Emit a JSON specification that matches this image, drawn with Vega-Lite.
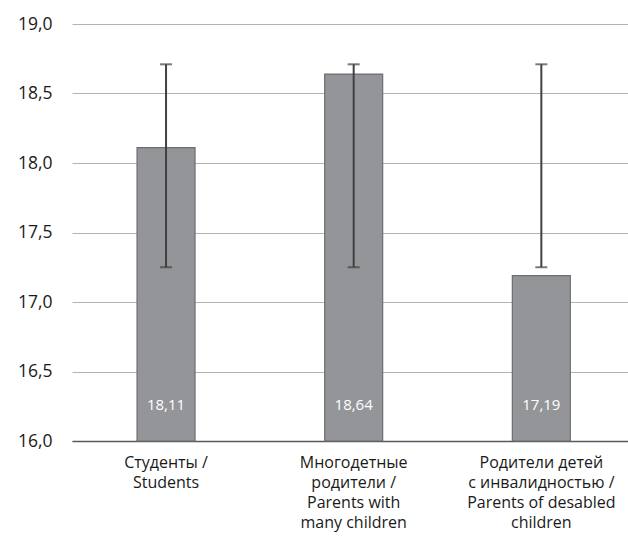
{
  "$schema": "https://vega.github.io/schema/vega-lite/v6.json",
  "autosize": "none",
  "width": 556,
  "height": 417,
  "padding": {"left": 72, "top": 24, "right": 0, "bottom": 97},
  "background": "white",
  "data": {
    "values": [
      {"group": "Студенты /|Students", "mean": 18.11, "low": 17.25, "high": 18.71, "text": "18,11"},
      {"group": "Многодетные|родители /|Parents with|many children", "mean": 18.64, "low": 17.25, "high": 18.71, "text": "18,64"},
      {"group": "Родители детей|с инвалидностью /|Parents of desabled|children", "mean": 17.19, "low": 17.25, "high": 18.71, "text": "17,19"}
    ]
  },
  "encoding": {
    "x": {
      "field": "group", "type": "nominal", "sort": null,
      "scale": {"paddingInner": 0.691, "paddingOuter": 0.327, "align": 0.53},
      "axis": {
        "title": null, "labelAngle": 0, "ticks": false,
        "labelExpr": "split(datum.label, '|')",
        "labelFont": "Open Sans", "labelFontSize": 16, "labelColor": "#1a1a1a",
        "labelPadding": 13, "labelLineHeight": 20,
        "domainColor": "#595959", "domainWidth": 1.5
      }
    }
  },
  "layer": [
    {
      "mark": {"type": "bar", "fill": "#939598", "stroke": "#6d6e70", "strokeWidth": 1.2},
      "encoding": {
        "y": {
          "field": "mean", "type": "quantitative",
          "scale": {"domain": [16, 19], "nice": false, "zero": false},
          "axis": {"title": null, "values": [16, 16.5, 17, 17.5, 18, 18.5, 19]}
        },
        "y2": {"datum": 16}
      }
    },
    {
      "mark": {"type": "rule", "color": "#414042", "strokeWidth": 2},
      "encoding": {
        "y": {"field": "low", "type": "quantitative", "axis": {"title": null, "values": [16, 16.5, 17, 17.5, 18, 18.5, 19]}},
        "y2": {"field": "high"}
      }
    },
    {
      "mark": {"type": "tick", "color": "#414042", "size": 12, "thickness": 2},
      "encoding": {"y": {"field": "low", "type": "quantitative", "axis": {"title": null, "values": [16, 16.5, 17, 17.5, 18, 18.5, 19]}}}
    },
    {
      "mark": {"type": "tick", "color": "#414042", "size": 12, "thickness": 2},
      "encoding": {"y": {"field": "high", "type": "quantitative", "axis": {"title": null, "values": [16, 16.5, 17, 17.5, 18, 18.5, 19]}}}
    },
    {
      "mark": {"type": "text", "color": "white", "font": "Open Sans", "fontSize": 15, "baseline": "middle", "dy": -36},
      "encoding": {
        "y": {"datum": 16, "type": "quantitative", "axis": {"title": null, "values": [16, 16.5, 17, 17.5, 18, 18.5, 19]}},
        "text": {"field": "text"}
      }
    }
  ],
  "config": {
    "view": {"stroke": null},
    "axisY": {
      "labelExpr": "replace(format(datum.value, '.1f'), '.', ',')",
      "labelFont": "Open Sans", "labelFontSize": 17.5, "labelColor": "#1a1a1a",
      "labelPadding": 20, "ticks": false, "domain": false, "labelOverlap": false,
      "gridColor": "#b3b3b3", "gridWidth": 1.2
    }
  }
}
